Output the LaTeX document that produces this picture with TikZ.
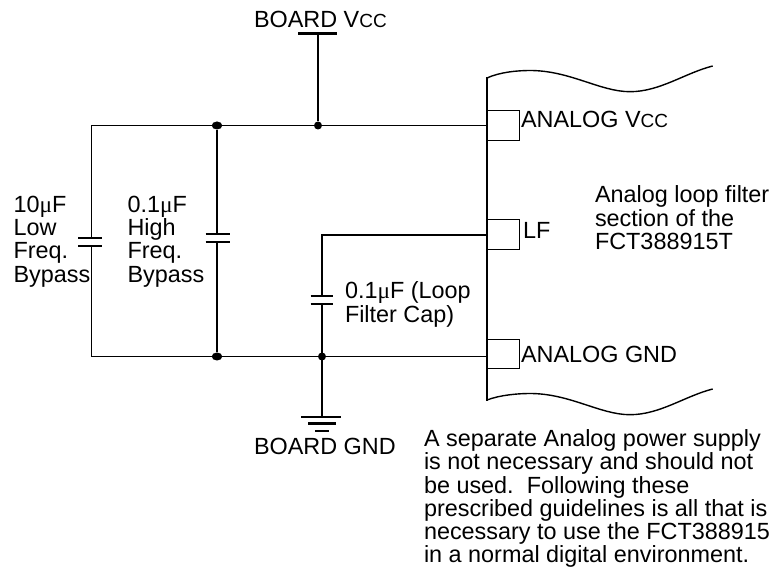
\documentclass[tikz,border=0pt]{standalone}
\usepackage{fontspec}
\usetikzlibrary{shapes.geometric}
\setmainfont{Liberation Sans}
\newfontfamily\mufont{Liberation Serif}
\newcommand{\mymu}{{\mufont μ}}
\newcommand{\mycc}{{\fontsize{19}{19}\selectfont CC}}
\tikzset{
  thin wire/.style={line width=1.3pt,black},
  thick wire/.style={line width=2.6pt,black},
  plate/.style={line width=2.2pt,black},
  pin/.style={draw=black,line width=1.2pt,minimum width=31.5pt,inner sep=0pt,anchor=north west},
  dot/.style={circle,fill=black,inner sep=0pt,minimum size=8pt},
  wide dot/.style={ellipse,fill=black,inner sep=0pt,minimum width=10.5pt,minimum height=8pt},
  lab/.style={inner sep=0pt,outer sep=0pt,anchor=north west,align=left,black,
    font=\fontsize{23.4}{23.3}\selectfont},
  one/.style={inner sep=0pt,outer sep=0pt,anchor=base west,black,
    font=\fontsize{23.4}{23.3}\selectfont},
}
\begin{document}
\begin{tikzpicture}[x=1pt,y=-1pt]
\useasboundingbox (0,0) rectangle (772,569);
% coordinates
\coordinate (tl) at (91.5,125.5);
\coordinate (bl) at (91.5,356.5);
\node[wide dot] (jt2) at (217,125.5) {};
\node[wide dot] (jb2) at (217,356.5) {};
\node[dot] (jtv) at (318,125.5) {};
\node[dot] (jb3) at (322,356.5) {};
\coordinate (vccbar) at (318,33.5);
\coordinate (vl) at (298,33.5);
\coordinate (vr) at (337,33.5);
\coordinate (chipT) at (487,78);
\coordinate (chipB) at (487,400);
% pins
\node[pin,minimum height=30pt] (pinA) at (487,110) {};
\node[pin,minimum height=30pt] (pinL) at (487,219) {};
\node[pin,minimum height=28.5pt] (pinG) at (487,339.3) {};
\coordinate (pinAw) at (487,125.5);
\coordinate (pinLw) at (487,235);
\coordinate (pinGw) at (487,356.5);
\coordinate (lfc) at (322,235);
% chip edge and waves
\draw[thick wire,line cap=rect] (chipT) -- (chipB);
\draw[line width=1.4pt] (chipT) .. controls (500,72) and (518,70.5) .. (530,70.5)
  .. controls (570,70.5) and (600,91.7) .. (630,91.7)
  .. controls (660,91.7) and (685,73) .. (712.7,66);
\draw[line width=1.4pt] (chipB) .. controls (500,395) and (518,393.5) .. (530,393.5)
  .. controls (570,393.5) and (600,414.7) .. (630,414.7)
  .. controls (660,414.7) and (685,396) .. (712.7,389);
% rails
\draw[thin wire] (pinAw) -- (tl) -- (bl) -- (pinGw);
\draw[thick wire] (vccbar) -- (jtv);
\draw[plate] (vl) -- (vr);
\draw[thick wire] (jt2) -- (jb2);
\draw[thick wire] (pinLw) -- (lfc) -- (322,417);
% capacitors
\fill[white] (70,238.5) rectangle (110,245);
\fill[white] (195,235) rectangle (240,241);
\fill[white] (305,297) rectangle (340,303);
\draw[plate] (78,237.7) -- (102,237.7) (78,246) -- (102,246);
\draw[plate] (205.5,234) -- (229.5,234) (205.5,242) -- (229.5,242);
\draw[plate] (310.7,296) -- (332.7,296) (310.7,304) -- (332.7,304);
% ground
\draw[plate] (301,416.7) -- (341,416.7) (308,423.5) -- (336,423.5) (315,430.7) -- (329,430.7);
% labels
\node[one] (tVcc) at (254,28) {BOARD V\mycc};
\node[one] (tAV) at (521,128) {ANALOG V\mycc};
\node[one] (tLF) at (523,239) {LF};
\node[one] (tAG) at (521,362.7) {ANALOG GND};
\node[one] (tBG) at (254,455) {BOARD GND};
\node[lab] (t1) at (13.5,196) {10\mymu F\\Low\\Freq.\\Bypass};
\node[lab] (t2) at (127.5,196) {0.1\mymu F\\High\\Freq.\\Bypass};
\node[lab] (t3) at (345,282) {0.1\mymu F (Loop\\Filter Cap)};
\node[lab] (t4) at (595,186) {Analog loop filter\\section of the\\FCT388915T};
\node[lab] (t5) at (424,429.5) {A separate Analog power supply\\is not necessary and should not\\be used.\ \ Following these\\prescribed guidelines is all that is\\necessary to use the FCT388915\\in a normal digital environment.};
\end{tikzpicture}
\end{document}
